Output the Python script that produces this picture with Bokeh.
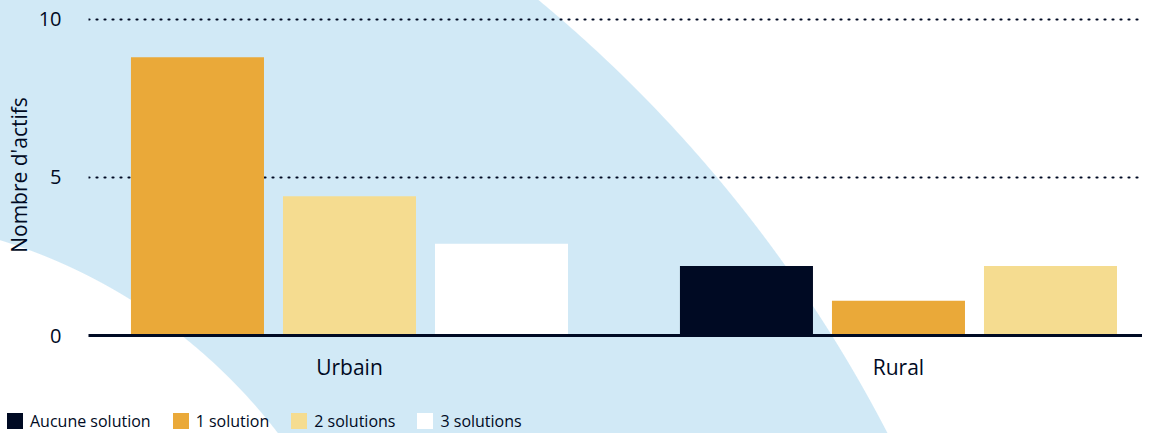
from bokeh.plotting import figure
from bokeh.layouts import column
from bokeh.models import ColumnDataSource, Range1d, FixedTicker, Div
from bokeh.embed import file_html
from bokeh.resources import INLINE

# ---- data ----
categories = ["Urbain", "Rural"]
series_names = ["Aucune solution", "1 solution", "2 solutions", "3 solutions"]
aucune_solution = [0.0, 2.2]
une_solution = [8.8, 1.1]
deux_solutions = [4.4, 2.2]
trois_solutions = [2.9, 0.0]
y_ticks = [0, 5, 10]
y_label = "Nombre d'actifs"

# ---- style ----
colors = ["#000a23", "#eaa939", "#f5dc90", "#ffffff"]
INK = "#000a23"
BLUE = "#d1e9f6"
FONT = "Open Sans"
STEP = 0.2769
BAR_W = 0.2423

values = [aucune_solution, une_solution, deux_solutions, trois_solutions]

p = figure(width=1142, height=405, output_backend="svg", toolbar_location=None,
           x_range=Range1d(-0.4754, 1.4445), y_range=Range1d(0, 10.15),
           min_border_left=88, min_border_right=0, min_border_top=14,
           min_border_bottom=70)
p.border_fill_alpha = 0
p.background_fill_alpha = 0
p.outline_line_color = None

# bars: zero-valued series are omitted and the remaining ones centred on the category
xs = [[] for _ in values]
tops = [[] for _ in values]
for ci, cat in enumerate(categories):
    present = [si for si in range(len(values)) if values[si][ci] > 0]
    n = len(present)
    for k, si in enumerate(present):
        xs[si].append(ci + (k - (n - 1) / 2) * STEP)
        tops[si].append(values[si][ci])

for si, name in enumerate(series_names):
    src = ColumnDataSource(dict(x=xs[si], top=tops[si]))
    p.vbar(x="x", top="top", bottom=0, width=BAR_W, source=src,
           fill_color=colors[si], line_color=None)

# axes
p.xaxis.ticker = FixedTicker(ticks=list(range(len(categories))))
p.xaxis.major_label_overrides = {i: c for i, c in enumerate(categories)}
p.xaxis.axis_line_color = INK
p.xaxis.axis_line_width = 3
p.xaxis.major_tick_line_color = None
p.xaxis.minor_tick_line_color = None
p.xaxis.major_label_standoff = 11
p.xaxis.major_label_text_font = FONT
p.xaxis.major_label_text_font_size = "21px"
p.xaxis.major_label_text_color = INK

p.yaxis.ticker = FixedTicker(ticks=y_ticks)
p.yaxis.axis_line_color = None
p.yaxis.major_tick_line_color = None
p.yaxis.minor_tick_line_color = None
p.yaxis.major_label_standoff = 21
p.yaxis.major_label_text_font = FONT
p.yaxis.major_label_text_font_size = "20px"
p.yaxis.major_label_text_color = INK
p.yaxis.axis_label = y_label
p.yaxis.axis_label_text_font = FONT
p.yaxis.axis_label_text_font_size = "21px"
p.yaxis.axis_label_text_font_style = "normal"
p.yaxis.axis_label_text_color = INK
p.yaxis.axis_label_standoff = 3

p.xgrid.visible = False
p.ygrid.ticker = FixedTicker(ticks=y_ticks)
p.ygrid.grid_line_color = INK
p.ygrid.grid_line_width = 2.2
p.ygrid.grid_line_dash = "1 7"
p.ygrid.grid_line_cap = "round"

# legend strip, built from the series names and colours
items_html = "".join(
    '<span style="display:inline-block;width:16px;height:16px;background:%s;'
    'margin-right:7px;flex:none"></span>'
    '<span style="margin-right:22px;white-space:nowrap">%s</span>' % (c, n)
    for n, c in zip(series_names, colors)
)
legend_div = Div(
    width=1142, height=18,
    text='<div style="display:flex;align-items:center;height:18px;line-height:18px;'
         'padding-left:2px;margin-top:2px;font-family:\'Open Sans\';font-size:16px;color:%s">%s</div>'
         % (INK, items_html),
    styles={"overflow": "visible"},
)

layout = column(p, legend_div, spacing=0)
layout.styles = {
    "background": (
        "radial-gradient(circle 558px at -164px 773px, #ffffff 557px, rgba(255,255,255,0) 558px), "
        "radial-gradient(circle 1395px at -351px 1074px, " + BLUE + " 1394px, rgba(209,233,246,0) 1395px), "
        "#ffffff"
    )
}

open("out.html", "w").write(file_html(layout, INLINE))
